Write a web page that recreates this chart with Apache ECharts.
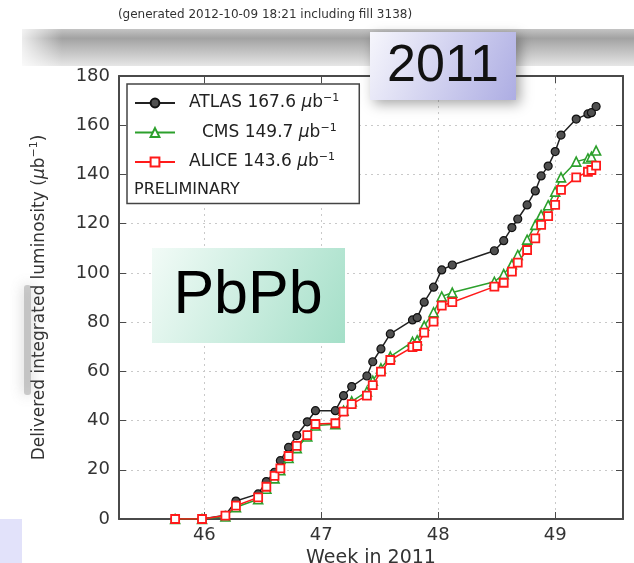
<!DOCTYPE html>
<html>
<head>
<meta charset="utf-8">
<script src="https://cdn.jsdelivr.net/npm/echarts@6/dist/echarts.min.js"></script>
<style>
  html, body { margin: 0; padding: 0; background: #ffffff; }
  #chart { width: 634px; height: 563px; }
</style>
</head>
<body>
<div id="chart"></div>
<script>
// Week of the year (fractional) at which each fill ended
const weeks = [45.75, 45.98, 46.18, 46.27, 46.46, 46.53, 46.60, 46.65, 46.72, 46.79,
               46.88, 46.95, 47.12, 47.19, 47.26, 47.39, 47.44, 47.51, 47.59, 47.78,
               47.82, 47.88, 47.96, 48.03, 48.12, 48.48, 48.56, 48.63, 48.68, 48.76,
               48.83, 48.88, 48.94, 49.00, 49.05, 49.18, 49.28, 49.31, 49.35];

// Delivered integrated luminosity per experiment (μb^-1)
const atlas = [0, 0, 1.5, 7.3, 10.2, 15.2, 19.0, 23.7, 29.1, 33.9,
               39.5, 44.0, 44.0, 50.1, 53.8, 58.1, 63.9, 69.1, 75.2, 80.9,
               81.8, 88.1, 94.2, 101.2, 103.2, 109.0, 113.1, 118.4, 121.9, 127.6,
               133.3, 139.4, 143.4, 149.3, 156.0, 162.5, 164.6, 165.1, 167.6];
const cms   = [0, 0, 1.0, 4.8, 8.0, 12.3, 16.5, 19.8, 24.8, 28.8,
               33.5, 38.0, 38.5, 44.0, 47.8, 51.8, 56.2, 61.2, 66.0, 72.0,
               72.6, 78.5, 84.0, 90.4, 92.0, 96.4, 99.5, 103.5, 107.3, 113.5,
               119.5, 123.5, 127.5, 133.0, 138.8, 145.2, 146.5, 147.2, 149.7];
const alice = [0, 0, 1.4, 5.4, 8.8, 13.1, 17.5, 20.6, 25.6, 29.7,
               34.1, 38.6, 38.9, 43.6, 46.7, 50.1, 54.4, 59.9, 64.6, 69.8,
               70.3, 75.7, 80.2, 86.7, 88.1, 94.4, 96.0, 100.5, 104.2, 109.3,
               114.0, 119.5, 123.1, 127.6, 133.7, 138.8, 141.1, 141.8, 143.6];

const weekTicks = [46, 47, 48, 49];
const lumiTicks = { min: 0, max: 180, step: 20 };

const FONT = 'DejaVu Sans';
const AXIS_COLOR = '#4a4a4a';

const toPoints = vals => weeks.map((w, i) => [w, vals[i]]);
const lastOf = vals => vals[vals.length - 1].toFixed(1);

const legendText = {
  ATLAS: '{a|ATLAS ' + lastOf(atlas) + ' }{mu|μ}{t|b}{sup|−1}',
  CMS:   '{c|CMS ' + lastOf(cms) + ' }{mu|μ}{t|b}{sup|−1}',
  ALICE: '{a|ALICE ' + lastOf(alice) + ' }{mu|μ}{t|b}{sup|−1}'
};

const xBase = {
  type: 'value', min: 45.27, max: 49.58,
  axisLine: { show: true, onZero: false, lineStyle: { color: AXIS_COLOR, width: 2 } },
  axisTick: { show: true, inside: true, length: 7, customValues: weekTicks,
              lineStyle: { color: AXIS_COLOR, width: 1 } }
};
const yBase = {
  type: 'value', min: lumiTicks.min, max: lumiTicks.max, interval: lumiTicks.step,
  axisLine: { show: true, onZero: false, lineStyle: { color: AXIS_COLOR, width: 2 } },
  axisTick: { show: true, inside: true, length: 7, lineStyle: { color: AXIS_COLOR, width: 1 } }
};

const chart = echarts.init(document.getElementById('chart'), null, { renderer: 'canvas' });

chart.setOption({
  animation: false,
  backgroundColor: '#ffffff',
  grid: { left: 119, right: 11, top: 76, bottom: 44, containLabel: false, outerBoundsMode: 'none' },
  xAxis: [
    Object.assign({}, xBase, {
      position: 'bottom',
      axisLabel: { customValues: weekTicks, fontFamily: FONT, fontSize: 18, color: '#333', margin: 7 },
      splitLine: { show: true, lineStyle: { color: '#c9c9c9', type: [2, 4], width: 1 } },
      name: 'Week in 2011', nameLocation: 'middle', nameGap: 22,
      nameTextStyle: { fontFamily: FONT, fontSize: 19, color: '#333' }
    }),
    Object.assign({}, xBase, {
      position: 'top',
      axisLabel: { show: false },
      splitLine: { show: false }
    })
  ],
  yAxis: [
    Object.assign({}, yBase, {
      position: 'left',
      axisLabel: { fontFamily: FONT, fontSize: 18, color: '#333', margin: 9 },
      splitLine: { show: true, lineStyle: { color: '#c9c9c9', type: [2, 4], width: 1 } },
      name: '{t|Delivered integrated luminosity (}{mu|μ}{t|b}{sup|−1}{t|)}',
      nameLocation: 'middle', nameGap: 68,
      nameTextStyle: {
        fontFamily: FONT, fontSize: 17, color: '#333',
        rich: {
          t:   { fontFamily: FONT, fontSize: 17, color: '#333', lineHeight: 22 },
          mu:  { fontFamily: FONT, fontSize: 17, color: '#333', fontStyle: 'italic', lineHeight: 22 },
          sup: { fontFamily: FONT, fontSize: 11, color: '#333', lineHeight: 13, verticalAlign: 'top' }
        }
      }
    }),
    Object.assign({}, yBase, {
      position: 'right',
      axisLabel: { show: false },
      splitLine: { show: false }
    })
  ],
  legend: {
    orient: 'vertical',
    left: 127, top: 84,
    padding: [9, 20, 33, 7],
    itemWidth: 40, itemHeight: 11, itemGap: 11,
    backgroundColor: '#ffffff',
    borderColor: '#444', borderWidth: 1.5, borderRadius: 0,
    data: ['ATLAS', 'CMS', 'ALICE'],
    formatter: name => legendText[name],
    textStyle: {
      fontFamily: FONT, fontSize: 17, color: '#222',
      rich: {
        a:   { fontFamily: FONT, fontSize: 17, color: '#222', lineHeight: 20, padding: [0, 0, 0, 9] },
        c:   { fontFamily: FONT, fontSize: 17, color: '#222', lineHeight: 20, padding: [0, 0, 0, 22] },
        t:   { fontFamily: FONT, fontSize: 17, color: '#222', lineHeight: 20 },
        mu:  { fontFamily: FONT, fontSize: 17, color: '#222', lineHeight: 20, fontStyle: 'italic' },
        sup: { fontFamily: FONT, fontSize: 11, color: '#222', lineHeight: 12, verticalAlign: 'top' }
      }
    }
  },
  series: [
    {
      name: 'ATLAS', type: 'line', data: toPoints(atlas),
      symbol: 'circle', symbolSize: 8, showAllSymbol: true,
      lineStyle: { color: '#222', width: 1.5 },
      itemStyle: { color: '#505050', borderColor: '#111', borderWidth: 1.2 }
    },
    {
      name: 'CMS', type: 'line', data: toPoints(cms),
      symbol: 'triangle', symbolSize: 9, showAllSymbol: true,
      lineStyle: { color: '#2ca02c', width: 1.5 },
      itemStyle: { color: '#ffffff', borderColor: '#2ca02c', borderWidth: 1.6 }
    },
    {
      name: 'ALICE', type: 'line', data: toPoints(alice),
      symbol: 'rect', symbolSize: 8, showAllSymbol: true,
      lineStyle: { color: '#ff1a1a', width: 1.5 },
      itemStyle: { color: '#ffffff', borderColor: '#ff1a1a', borderWidth: 1.8 }
    }
  ],
  graphic: [
    // run stamp above the figure
    { type: 'text', x: 265, y: 15, z: 50,
      style: { text: '(generated 2012-10-09 18:21 including fill 3138)', font: '12px "DejaVu Sans"',
               fill: '#333', align: 'center', verticalAlign: 'middle' } },
    // soft grey slide band behind the top of the frame
    { type: 'rect', z: 40, shape: { x: 22, y: 29, width: 612, height: 37 },
      style: { fill: new echarts.graphic.LinearGradient(0, 0, 0, 1, [
        { offset: 0, color: '#c4c4c4' },
        { offset: 0.25, color: '#a2a2a2' },
        { offset: 1, color: '#e6e6e6' }
      ]) } },
    { type: 'rect', z: 41, shape: { x: 22, y: 29, width: 40, height: 37 },
      style: { fill: new echarts.graphic.LinearGradient(0, 0, 1, 0, [
        { offset: 0, color: 'rgba(255,255,255,0.8)' },
        { offset: 1, color: 'rgba(255,255,255,0)' }
      ]) } },
    // grey smudge on the left margin
    { type: 'rect', z: 40, shape: { x: 24, y: 285, width: 7, height: 110, r: 3 },
      style: { fill: 'rgba(150,150,150,0.45)', shadowBlur: 14, shadowColor: 'rgba(120,120,120,0.9)' } },
    // lavender corner block
    { type: 'rect', z: 40, shape: { x: 0, y: 519, width: 22, height: 44 },
      style: { fill: '#e2e2fa' } },
    // year badge
    { type: 'rect', z: 60, shape: { x: 370, y: 32, width: 146, height: 68 },
      style: { fill: new echarts.graphic.LinearGradient(0, 0, 1, 1, [
        { offset: 0, color: '#f6f6fc' },
        { offset: 1, color: '#adade3' }
      ]), shadowBlur: 12, shadowColor: 'rgba(0,0,0,0.35)', shadowOffsetX: 4, shadowOffsetY: 4 } },
    { type: 'text', x: 443, y: 67, z: 61,
      style: { text: '2011', font: '52px "Liberation Sans"', fill: '#111',
               align: 'center', verticalAlign: 'middle' } },
    // collision system badge
    { type: 'rect', z: 60, shape: { x: 152, y: 248, width: 193, height: 95 },
      style: { fill: new echarts.graphic.LinearGradient(0, 0, 1, 1, [
        { offset: 0, color: '#f2fbf7' },
        { offset: 1, color: '#a4dfc8' }
      ]) } },
    { type: 'text', x: 248, y: 296, z: 61,
      style: { text: 'PbPb', font: '61px "Liberation Sans"', fill: '#000',
               align: 'center', verticalAlign: 'middle' } },
    // legend footnote
    { type: 'text', x: 134, y: 190, z: 70,
      style: { text: 'PRELIMINARY', font: '16px "DejaVu Sans"', fill: '#222',
               align: 'left', verticalAlign: 'middle' } }
  ]
});
</script>
</body>
</html>
